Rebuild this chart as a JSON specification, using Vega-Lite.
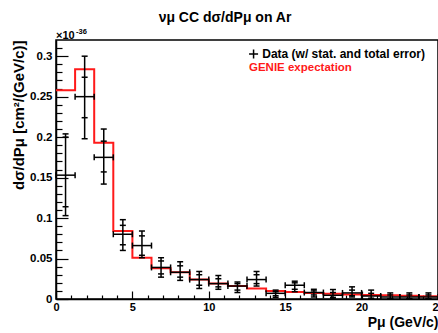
{
  "$schema": "https://vega.github.io/schema/vega-lite/v6.json",
  "width": 382,
  "height": 259,
  "autosize": {"type": "none"},
  "padding": {"left": 56, "top": 40, "right": 0, "bottom": 34},
  "background": "white",
  "config": {
    "view": {"stroke": "black", "strokeWidth": 1.5},
    "font": "Liberation Sans"
  },
  "resolve": {"axis": {"x": "independent", "y": "independent"}},
  "title": {
    "text": "νμ CC dσ/dPμ on Ar",
    "anchor": "middle",
    "dx": -22,
    "dy": 4,
    "offset": 7,
    "font": "Liberation Sans",
    "fontSize": 14,
    "fontWeight": "bold",
    "color": "black"
  },
  "datasets": {
    "hist": [
      {"x": 0, "v": 0.258}, {"x": 1.25, "v": 0.284}, {"x": 2.5, "v": 0.193},
      {"x": 3.75, "v": 0.084}, {"x": 5, "v": 0.051}, {"x": 6.25, "v": 0.038},
      {"x": 7.5, "v": 0.033}, {"x": 8.75, "v": 0.024}, {"x": 10, "v": 0.019},
      {"x": 11.25, "v": 0.016}, {"x": 12.5, "v": 0.013}, {"x": 13.75, "v": 0.010},
      {"x": 15, "v": 0.0088}, {"x": 16.25, "v": 0.0075}, {"x": 17.5, "v": 0.0065},
      {"x": 18.75, "v": 0.0057}, {"x": 20, "v": 0.005}, {"x": 21.25, "v": 0.0045},
      {"x": 22.5, "v": 0.004}, {"x": 23.75, "v": 0.0035}, {"x": 25, "v": 0.0035}
    ],
    "pts": [
      {"x": 0.625, "x0": 0, "x1": 1.25, "y": 0.153, "ylo": 0.103, "yhi": 0.204, "slo": 0.114, "shi": 0.200},
      {"x": 1.875, "x0": 1.25, "x1": 2.5, "y": 0.250, "ylo": 0.198, "yhi": 0.300, "slo": 0.224, "shi": 0.274},
      {"x": 3.125, "x0": 2.5, "x1": 3.75, "y": 0.175, "ylo": 0.142, "yhi": 0.210, "slo": 0.157, "shi": 0.195},
      {"x": 4.375, "x0": 3.75, "x1": 5, "y": 0.080, "ylo": 0.060, "yhi": 0.098, "slo": 0.067, "shi": 0.091},
      {"x": 5.625, "x0": 5, "x1": 6.25, "y": 0.066, "ylo": 0.051, "yhi": 0.084, "slo": 0.054, "shi": 0.078},
      {"x": 6.875, "x0": 6.25, "x1": 7.5, "y": 0.039, "ylo": 0.027, "yhi": 0.051, "slo": 0.031, "shi": 0.047},
      {"x": 8.125, "x0": 7.5, "x1": 8.75, "y": 0.033, "ylo": 0.023, "yhi": 0.046, "slo": 0.027, "shi": 0.041},
      {"x": 9.375, "x0": 8.75, "x1": 10, "y": 0.024, "ylo": 0.013, "yhi": 0.034, "slo": 0.017, "shi": 0.030},
      {"x": 10.625, "x0": 10, "x1": 11.25, "y": 0.019, "ylo": 0.012, "yhi": 0.029, "slo": 0.015, "shi": 0.025},
      {"x": 11.875, "x0": 11.25, "x1": 12.5, "y": 0.016, "ylo": 0.008, "yhi": 0.021, "slo": 0.011, "shi": 0.019},
      {"x": 13.125, "x0": 12.5, "x1": 13.75, "y": 0.024, "ylo": 0.016, "yhi": 0.034, "slo": 0.019, "shi": 0.030},
      {"x": 14.375, "x0": 13.75, "x1": 15, "y": 0.007, "ylo": 0.002, "yhi": 0.011, "slo": 0.004, "shi": 0.009},
      {"x": 15.625, "x0": 15, "x1": 16.25, "y": 0.017, "ylo": 0.009, "yhi": 0.022, "slo": 0.012, "shi": 0.020},
      {"x": 16.875, "x0": 16.25, "x1": 17.5, "y": 0.008, "ylo": 0.0025, "yhi": 0.012, "slo": 0.005, "shi": 0.010},
      {"x": 18.125, "x0": 17.5, "x1": 18.75, "y": 0.0046, "ylo": 0.0, "yhi": 0.0117, "slo": 0.002, "shi": 0.008},
      {"x": 19.375, "x0": 18.75, "x1": 20, "y": 0.0075, "ylo": 0.0025, "yhi": 0.015, "slo": 0.004, "shi": 0.011},
      {"x": 20.625, "x0": 20, "x1": 21.25, "y": 0.0037, "ylo": 0.0, "yhi": 0.011, "slo": 0.001, "shi": 0.007},
      {"x": 21.875, "x0": 21.25, "x1": 22.5, "y": 0.0025, "ylo": 0.0, "yhi": 0.0075, "slo": 0.0005, "shi": 0.005},
      {"x": 23.125, "x0": 22.5, "x1": 23.75, "y": 0.0025, "ylo": 0.0, "yhi": 0.0075, "slo": 0.0005, "shi": 0.005},
      {"x": 24.375, "x0": 23.75, "x1": 25, "y": 0.0025, "ylo": 0.0, "yhi": 0.0075, "slo": 0.0005, "shi": 0.005}
    ]
  },
  "layer": [
    {
      "data": {"name": "hist"},
      "mark": {"type": "line", "interpolate": "step-after", "color": "#ff1a1a", "strokeWidth": 2},
      "encoding": {
        "x": {
          "field": "x", "type": "quantitative",
          "scale": {"domain": [0, 25], "nice": false, "zero": false},
          "axis": {
            "orient": "bottom",
            "values": [0, 5, 10, 15, 20, 25],
            "tickSize": -8,
            "tickColor": "black", "tickWidth": 1.2,
            "domainColor": "black", "domainWidth": 1.5,
            "labelPadding": 10, "labelFontSize": 11, "labelFontWeight": "bold", "labelColor": "black",
            "labelFont": "Liberation Sans", "labelFlush": false, "labelOverlap": false,
            "grid": false,
            "title": "Pμ (GeV/c)",
            "titleAnchor": "end", "titleFont": "Liberation Sans",
            "titleFontSize": 14, "titleFontWeight": "bold", "titleColor": "black", "titlePadding": 3
          }
        },
        "y": {
          "field": "v", "type": "quantitative",
          "scale": {"domain": [0, 0.32], "nice": false},
          "axis": {
            "orient": "left",
            "values": [0, 0.05, 0.1, 0.15, 0.2, 0.25, 0.3],
            "format": ".2~f",
            "tickSize": -12,
            "tickColor": "black", "tickWidth": 1.2,
            "domainColor": "black", "domainWidth": 1.5,
            "labelPadding": 16, "labelFontSize": 11.5, "labelFontWeight": "bold", "labelColor": "black",
            "labelFont": "Liberation Sans", "labelFlush": false, "labelOverlap": false,
            "grid": false,
            "title": "dσ/dPμ [cm²/(GeV/c)]",
            "titleAnchor": "end", "titleFont": "Liberation Sans",
            "titleFontSize": 15, "titleFontWeight": "bold", "titleColor": "black", "titlePadding": 3
          }
        }
      }
    },
    {
      "data": {"name": "pts"},
      "mark": {"type": "rule", "color": "black", "strokeWidth": 1.5},
      "encoding": {
        "x": {
          "field": "x0", "type": "quantitative",
          "axis": {
            "orient": "bottom",
            "values": [1,2,3,4,6,7,8,9,11,12,13,14,16,17,18,19,21,22,23,24],
            "tickSize": -4, "tickColor": "black", "tickWidth": 1.2,
            "labels": false, "domain": false, "grid": false, "title": null
          }
        },
        "x2": {"field": "x1"},
        "y": {
          "field": "y", "type": "quantitative",
          "axis": {
            "orient": "left",
            "values": [0.01,0.02,0.03,0.04,0.06,0.07,0.08,0.09,0.11,0.12,0.13,0.14,0.16,0.17,0.18,0.19,0.21,0.22,0.23,0.24,0.26,0.27,0.28,0.29,0.31],
            "tickSize": -6, "tickColor": "black", "tickWidth": 1.2,
            "labels": false, "domain": false, "grid": false, "title": null
          }
        }
      }
    },
    {
      "data": {"name": "pts"},
      "mark": {"type": "rule", "color": "black", "strokeWidth": 1.5},
      "encoding": {
        "x": {"field": "x", "type": "quantitative", "axis": null},
        "y": {"field": "ylo", "type": "quantitative", "axis": null},
        "y2": {"field": "yhi"}
      }
    },
    {
      "data": {"name": "pts"},
      "mark": {"type": "tick", "orient": "horizontal", "size": 6, "thickness": 1.5, "color": "black", "opacity": 1},
      "encoding": {
        "x": {"field": "x", "type": "quantitative", "axis": null},
        "y": {"field": "yhi", "type": "quantitative", "axis": null}
      }
    },
    {
      "data": {"name": "pts"},
      "mark": {"type": "tick", "orient": "horizontal", "size": 6, "thickness": 1.5, "color": "black", "opacity": 1},
      "encoding": {
        "x": {"field": "x", "type": "quantitative", "axis": null},
        "y": {"field": "ylo", "type": "quantitative", "axis": null}
      }
    },
    {
      "data": {"name": "pts"},
      "mark": {"type": "tick", "orient": "horizontal", "size": 6, "thickness": 1.5, "color": "black", "opacity": 1},
      "encoding": {
        "x": {"field": "x", "type": "quantitative", "axis": null},
        "y": {"field": "shi", "type": "quantitative", "axis": null}
      }
    },
    {
      "data": {"name": "pts"},
      "mark": {"type": "tick", "orient": "horizontal", "size": 6, "thickness": 1.5, "color": "black", "opacity": 1},
      "encoding": {
        "x": {"field": "x", "type": "quantitative", "axis": null},
        "y": {"field": "slo", "type": "quantitative", "axis": null}
      }
    },
    {
      "data": {"name": "pts"},
      "mark": {"type": "tick", "orient": "vertical", "size": 6, "thickness": 1.5, "color": "black", "opacity": 1},
      "encoding": {
        "x": {"field": "x0", "type": "quantitative", "axis": null},
        "y": {"field": "y", "type": "quantitative", "axis": null}
      }
    },
    {
      "data": {"name": "pts"},
      "mark": {"type": "tick", "orient": "vertical", "size": 6, "thickness": 1.5, "color": "black", "opacity": 1},
      "encoding": {
        "x": {"field": "x1", "type": "quantitative", "axis": null},
        "y": {"field": "y", "type": "quantitative", "axis": null}
      }
    },
    {
      "data": {"values": [{}]},
      "mark": {"type": "point", "shape": "M-1,0H1M0,-1V1", "filled": false, "stroke": "black", "strokeWidth": 1.5, "size": 81, "opacity": 1},
      "encoding": {
        "x": {"datum": 12.93, "type": "quantitative", "axis": null},
        "y": {"datum": 0.3027, "type": "quantitative", "axis": null}
      }
    },
    {
      "data": {"values": [{}]},
      "mark": {"type": "text", "align": "left", "baseline": "middle", "font": "Liberation Sans", "fontWeight": "bold", "fontSize": 12, "color": "black"},
      "encoding": {
        "x": {"datum": 13.5, "type": "quantitative", "axis": null},
        "y": {"datum": 0.3027, "type": "quantitative", "axis": null},
        "text": {"value": "Data (w/ stat. and total error)"}
      }
    },
    {
      "data": {"values": [{}]},
      "mark": {"type": "text", "align": "left", "baseline": "middle", "font": "Liberation Sans", "fontWeight": "bold", "fontSize": 11.5, "color": "#ff1a1a"},
      "encoding": {
        "x": {"datum": 12.63, "type": "quantitative", "axis": null},
        "y": {"datum": 0.285, "type": "quantitative", "axis": null},
        "text": {"value": "GENIE expectation"}
      }
    },
    {
      "data": {"values": [{}]},
      "mark": {"type": "text", "align": "left", "baseline": "alphabetic", "dy": -1, "font": "Liberation Sans", "fontWeight": "bold", "fontSize": 11, "color": "black"},
      "encoding": {
        "x": {"datum": 0, "type": "quantitative", "axis": null},
        "y": {"datum": 0.32, "type": "quantitative", "axis": null},
        "text": {"value": "×10"}
      }
    },
    {
      "data": {"values": [{}]},
      "mark": {"type": "text", "align": "left", "baseline": "alphabetic", "dx": 20, "dy": -6, "font": "Liberation Sans", "fontWeight": "bold", "fontSize": 7.5, "color": "black"},
      "encoding": {
        "x": {"datum": 0, "type": "quantitative", "axis": null},
        "y": {"datum": 0.32, "type": "quantitative", "axis": null},
        "text": {"value": "-36"}
      }
    }
  ]
}
